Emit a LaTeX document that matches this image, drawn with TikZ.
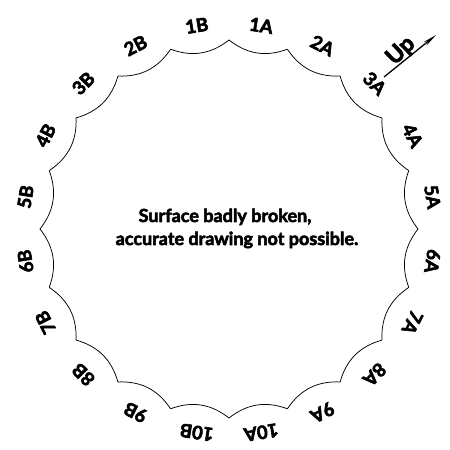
\documentclass[tikz,border=0pt]{standalone}
\usepackage{fontspec}
\setmainfont{Lato}
\newfontfamily\heavy[BoldFeatures={FakeBold=3}]{Lato}
\usetikzlibrary{arrows.meta,calc}
\tikzset{
  scallop/.style={draw=black, line width=0.75pt, bend right=29},
  seglabel/.style={font=\heavy\bfseries\fontsize{18.5}{18.5}\selectfont, inner sep=0pt},
  note/.style={font=\heavy\bfseries\fontsize{18}{18}\selectfont, inner sep=0pt, anchor=base},
  uparrow/.style={line width=1.3pt, -{Stealth[length=14pt,width=4.5pt]}}
}
\begin{document}
\begin{tikzpicture}[x=1pt,y=1pt]
\useasboundingbox (0,0) rectangle (450,450);
\coordinate (C) at (229,221);
\foreach \k in {0,...,19}{
  \coordinate (c\k) at ($(C)+({90-18*\k}:189)$);
}
\foreach \k in {0,...,19}{
  \pgfmathtruncatemacro{\nk}{mod(\k+1,20)}
  \draw[scallop] (c\k) to (c\nk);
}
\foreach \n in {1,...,10}{
  \pgfmathsetmacro{\aA}{81-18*(\n-1)}
  \pgfmathsetmacro{\aB}{99+18*(\n-1)}
  \node[seglabel, rotate=\aA-90] (lA\n) at ($(C)+(\aA:206)$) {\n A};
  \node[seglabel, rotate=\aB-90] (lB\n) at ($(C)+(\aB:206)$) {\n B};
}
\node[note] (msg1) at (225,228) {Surface badly broken,};
\node[note] (msg2) at (237,205) {accurate drawing not possible.};
\coordinate (upS) at (384,373);
\coordinate (upE) at (436,415);
\draw[uparrow] (upS) -- (upE);
\node[font=\heavy\bfseries\fontsize{23}{23}\selectfont, rotate=44, inner sep=0pt] (uptext) at (401,399) {Up};
\end{tikzpicture}
\end{document}
